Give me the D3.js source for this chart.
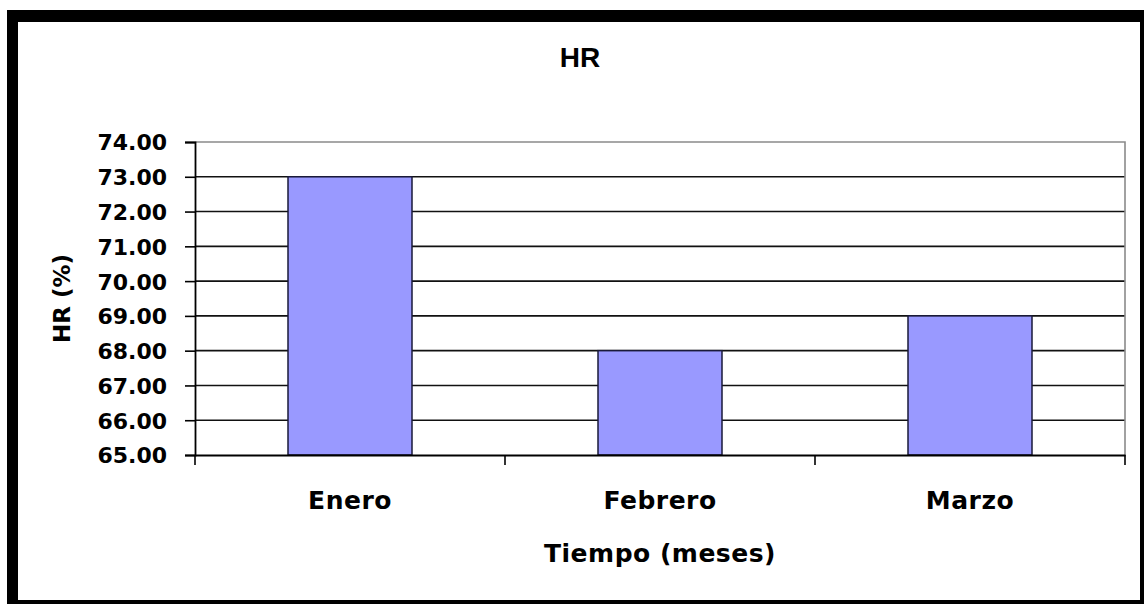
<!DOCTYPE html>
<html>
<head>
<meta charset="utf-8">
<script src="https://cdn.jsdelivr.net/npm/d3@7"></script>
<style>
	body { margin: 0; background: #fff; }
	svg { display: block; }
	.lbl { font-family: "DejaVu Sans", sans-serif; font-weight: bold; fill: #000; }
</style>
</head>
<body>
<div id="chart"></div>
<script>
// data
var months = ["Enero", "Febrero", "Marzo"];
var humidity = [73.0, 68.0, 69.0];
var yTicks = [65, 66, 67, 68, 69, 70, 71, 72, 73, 74];

var W = 1144, H = 604;
var plot = {left: 195, right: 1125, top: 142, bottom: 455};

var svg = d3.select("#chart").append("svg")
	.attr("width", W)
	.attr("height", H);

// black frame
svg.append("rect").attr("x", 7).attr("y", 10).attr("width", W - 7).attr("height", H - 10).attr("fill", "#000");
svg.append("rect").attr("x", 18).attr("y", 22).attr("width", 1122).attr("height", 578).attr("fill", "#fff");

// scales
var xScale = d3.scaleBand()
	.domain(months)
	.range([plot.left, plot.right])
	.padding(0);

var yScale = d3.scaleLinear()
	.domain([65, 74])
	.range([plot.bottom, plot.top]);

// gridlines
svg.append("g")
	.selectAll("line")
	.data(yTicks.filter(function(d) { return d > 65 && d < 74; }))
	.enter().append("line")
		.attr("x1", plot.left).attr("x2", plot.right)
		.attr("y1", function(d) { return yScale(d); })
		.attr("y2", function(d) { return yScale(d); })
		.attr("stroke", "#111")
		.attr("stroke-width", 1.6);

// plot area border (top / right, grey)
svg.append("path")
	.attr("d", "M" + plot.left + "," + plot.top + "H" + plot.right + "V" + plot.bottom)
	.attr("fill", "none")
	.attr("stroke", "#8a8a8a")
	.attr("stroke-width", 1.6);

// bars
var barW = xScale.bandwidth() * 0.4;
svg.selectAll(".bar")
	.data(months)
	.enter().append("rect")
		.attr("class", "bar")
		.attr("x", function(d) { return xScale(d) + (xScale.bandwidth() - barW) / 2; })
		.attr("y", function(d, i) { return yScale(humidity[i]); })
		.attr("width", barW)
		.attr("height", function(d, i) { return yScale(65) - yScale(humidity[i]); })
		.attr("fill", "#9999ff")
		.attr("stroke", "#1a1a3a")
		.attr("stroke-width", 1.5);

// y axis
var yAxis = svg.append("g")
	.attr("transform", "translate(" + plot.left + ",0)")
	.call(d3.axisLeft(yScale).tickValues(yTicks).tickSize(10).tickPadding(18)
		.tickFormat(d3.format(".2f")));
yAxis.select(".domain").attr("stroke", "#000").attr("stroke-width", 1.8);
yAxis.selectAll(".tick line").attr("stroke", "#000").attr("stroke-width", 1.6);
yAxis.selectAll(".tick text")
	.attr("class", "lbl")
	.style("font-size", "22px")
	.attr("dy", "0.36em");

// x axis
var xAxis = svg.append("g")
	.attr("transform", "translate(0," + plot.bottom + ")")
	.call(d3.axisBottom(xScale).tickSize(0).tickPadding(36));
xAxis.select(".domain").attr("stroke", "#000").attr("stroke-width", 1.8);
xAxis.selectAll(".tick text")
	.attr("class", "lbl")
	.style("font-size", "25px")
	.style("letter-spacing", "0.5px");

// x ticks at category boundaries
var bounds = months.map(function(d) { return xScale(d); }).concat([plot.right]);
xAxis.selectAll(".bound")
	.data(bounds)
	.enter().append("line")
		.attr("class", "bound")
		.attr("x1", function(d) { return d; }).attr("x2", function(d) { return d; })
		.attr("y1", 0).attr("y2", 10)
		.attr("stroke", "#000")
		.attr("stroke-width", 1.6);

// titles
svg.append("text")
	.attr("x", 580).attr("y", 67)
	.attr("text-anchor", "middle")
	.style("font-family", "'Liberation Sans', Arial, sans-serif")
	.style("font-weight", "bold")
	.style("font-size", "28px")
	.text("HR");

svg.append("text")
	.attr("class", "lbl")
	.attr("x", 660).attr("y", 562)
	.attr("text-anchor", "middle")
	.style("font-size", "25px")
	.style("letter-spacing", "0.5px")
	.text("Tiempo (meses)");

svg.append("text")
	.attr("class", "lbl")
	.attr("transform", "translate(70," + ((plot.top + plot.bottom) / 2) + ") rotate(-90)")
	.attr("text-anchor", "middle")
	.style("font-size", "23px")
	.text("HR (%)");
</script>
</body>
</html>
